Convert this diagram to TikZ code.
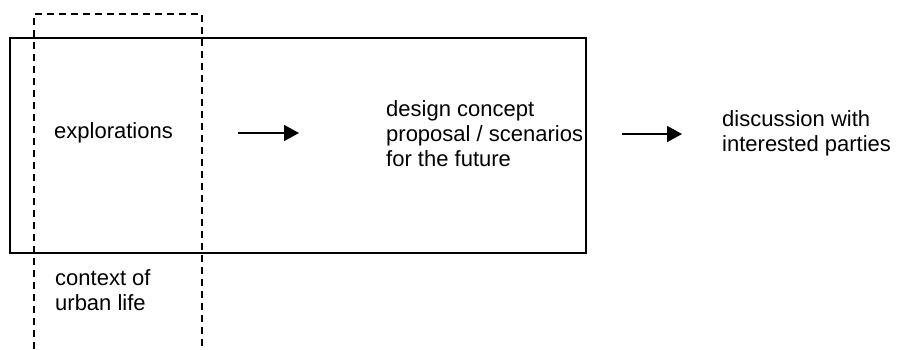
\documentclass[tikz,border=0pt]{standalone}
\usepackage{fontspec}
\setmainfont{Liberation Sans}
\usetikzlibrary{arrows.meta}
\begin{document}
\begin{tikzpicture}[x=1pt,y=-1pt,
  lbl/.style={anchor=west, align=left, inner sep=0pt,
              font=\fontsize{22}{25}\selectfont},
  frame/.style={draw, line width=1.6pt},
  ctxframe/.style={draw, line width=1.5pt, dash pattern=on 7pt off 5pt},
  flow/.style={draw, line width=1.6pt, -{Triangle[length=15pt,width=16pt]}}]
\useasboundingbox (0,0) rectangle (912,349);

% solid process frame
\draw[frame] (10,38) rectangle (586,253);
% dashed context frame, open at the bottom
\draw[ctxframe] (34,349) -- (34,14) -- (202,14) -- (202,349);

% labels
\node[lbl] (expl) at (54,133) {explorations};
\node[lbl] (design) at (386,134) {design concept\\proposal / scenarios\\for the future};
\node[lbl] (disc) at (722,133) {discussion with\\interested parties};
\node[lbl] (ctx) at (55,290) {context of\\urban life};

% arrow end points
\coordinate (a1s) at (238,133);
\coordinate (a1e) at (299,133);
\coordinate (a2s) at (622,134);
\coordinate (a2e) at (682,134);
\draw[flow] (a1s) -- (a1e);
\draw[flow] (a2s) -- (a2e);
\end{tikzpicture}
\end{document}
